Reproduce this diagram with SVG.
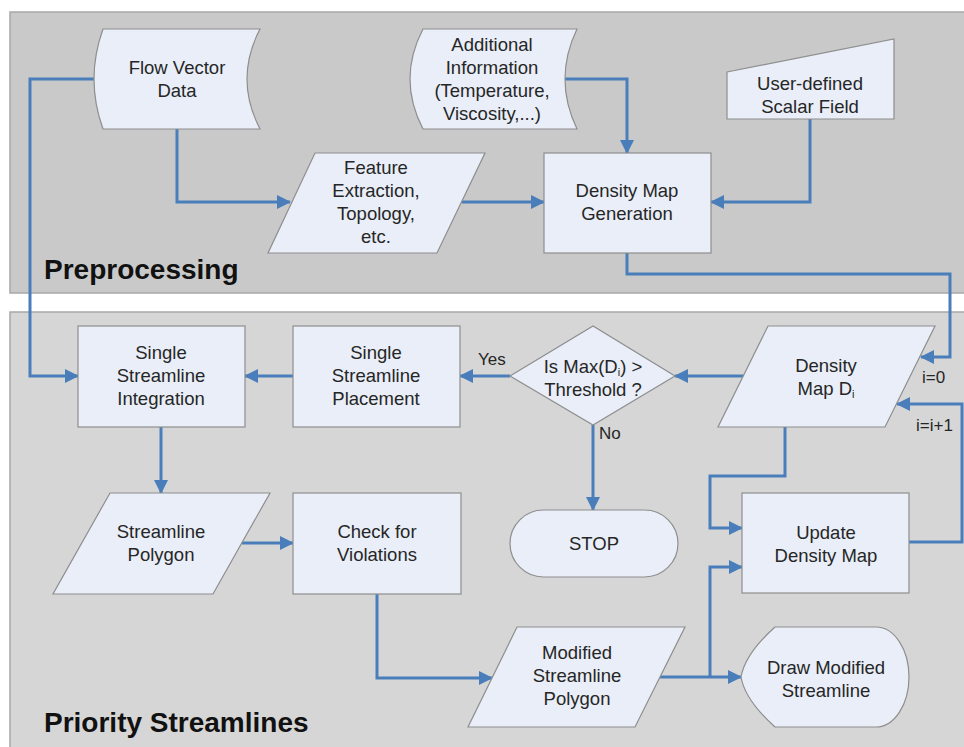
<svg xmlns="http://www.w3.org/2000/svg" width="964" height="747" viewBox="0 0 964 747">
<style>
.node{fill:#e9eef8;stroke:#8e8e8e;stroke-width:1.2}
.t{font-family:"Liberation Sans",Arial,sans-serif;font-size:18.5px;fill:#262626;text-anchor:middle}
.lbl{font-family:"Liberation Sans",Arial,sans-serif;font-size:17px;fill:#262626}
.title{font-family:"Liberation Sans",Arial,sans-serif;font-size:28px;font-weight:bold;fill:#111}
.c{fill:none;stroke:#4a7ebb;stroke-width:3;marker-end:url(#ah)}
</style>
<defs>
<marker id="ah" viewBox="0 0 14 14" refX="13" refY="7" markerWidth="14" markerHeight="14" markerUnits="userSpaceOnUse" orient="auto">
<path d="M0,0 L14,7 L0,14 Z" fill="#4a7ebb"/>
</marker>
</defs>
<rect x="0" y="0" width="964" height="747" fill="#ffffff"/>
<g id="panel-preprocessing">
<rect x="10" y="12" width="960" height="281" fill="#c9c9c9" stroke="#a8a8a8" stroke-width="1.5"/>
<text class="title" x="44" y="279">Preprocessing</text>
</g>
<g id="panel-priority">
<rect x="10" y="312" width="960" height="445" fill="#d6d6d6" stroke="#a8a8a8" stroke-width="1.5"/>
<text class="title" x="44" y="732">Priority Streamlines</text>
</g>
<g id="connectors">
<path class="c" d="M94,79 H30 V376 H78"/>
<path class="c" d="M177,129 V202 H290"/>
<path class="c" d="M462,202 H544"/>
<path class="c" d="M565,79 H627 V153"/>
<path class="c" d="M810,119 V202 H711"/>
<path class="c" d="M627,253 V274 H950 V357 H921"/>
<path class="c" d="M744,376 H675"/>
<path class="c" d="M510,376 H460"/>
<path class="c" d="M293,376 H245"/>
<path class="c" d="M593,425 V510"/>
<path class="c" d="M785,427 V476 H710 V528 H742"/>
<path class="c" d="M909,542 H962 V404 H897"/>
<path class="c" d="M161,427 V493"/>
<path class="c" d="M242,543 H293"/>
<path class="c" d="M377,594 V678 H492"/>
<path class="c" d="M660,677 H741"/>
<path class="c" d="M710,677 V567 H742"/>
<text class="lbl" x="478" y="365">Yes</text>
<text class="lbl" x="599" y="439">No</text>
<text class="lbl" x="922" y="383">i=0</text>
<text class="lbl" x="916" y="431">i=i+1</text>
</g>
<g id="flow-vector-data">
<path class="node" d="M103,29 L260,29 Q234,79 260,129 L103,129 Q85,79 103,29 Z"/>
<text class="t" x="177" y="74">Flow Vector</text>
<text class="t" x="177" y="97">Data</text>
</g>
<g id="additional-information">
<path class="node" d="M423,29 L577,29 Q553,79 577,129 L423,129 Q397,79 423,29 Z"/>
<text class="t" x="492" y="51">Additional</text>
<text class="t" x="492" y="74">Information</text>
<text class="t" x="492" y="97">(Temperature,</text>
<text class="t" x="492" y="120">Viscosity,...)</text>
</g>
<g id="user-defined-scalar-field">
<path class="node" d="M727,72 L894,39 L894,119 L727,119 Z"/>
<text class="t" x="810" y="90">User-defined</text>
<text class="t" x="810" y="113">Scalar Field</text>
</g>
<g id="feature-extraction">
<path class="node" d="M315,153 L485,153 L437,253 L268,253 Z"/>
<text class="t" x="376" y="174">Feature</text>
<text class="t" x="376" y="197">Extraction,</text>
<text class="t" x="376" y="220">Topology,</text>
<text class="t" x="376" y="243">etc.</text>
</g>
<g id="density-map-generation">
<rect class="node" x="544" y="153" width="167" height="100"/>
<text class="t" x="627" y="197">Density Map</text>
<text class="t" x="627" y="220">Generation</text>
</g>
<g id="single-streamline-integration">
<rect class="node" x="78" y="326" width="167" height="101"/>
<text class="t" x="161" y="359">Single</text>
<text class="t" x="161" y="382">Streamline</text>
<text class="t" x="161" y="405">Integration</text>
</g>
<g id="single-streamline-placement">
<rect class="node" x="293" y="326" width="167" height="101"/>
<text class="t" x="376" y="359">Single</text>
<text class="t" x="376" y="382">Streamline</text>
<text class="t" x="376" y="405">Placement</text>
</g>
<g id="decision-threshold">
<path class="node" d="M510,376 L593,326 L675,376 L593,425 Z"/>
<text class="t" x="593" y="373">Is Max(D<tspan font-size="11" dy="3">i</tspan><tspan dy="-3">) &gt;</tspan></text>
<text class="t" x="593" y="396">Threshold ?</text>
</g>
<g id="density-map-di">
<path class="node" d="M768,326 L935,326 L885,427 L718,427 Z"/>
<text class="t" x="826" y="372">Density</text>
<text class="t" x="826" y="395">Map D<tspan font-size="11" dy="3">i</tspan></text>
</g>
<g id="stop">
<rect class="node" x="510" y="510" width="168" height="67" rx="33.5" ry="33.5"/>
<text class="t" x="594" y="550">STOP</text>
</g>
<g id="update-density-map">
<rect class="node" x="742" y="493" width="167" height="100"/>
<text class="t" x="826" y="539">Update</text>
<text class="t" x="826" y="562">Density Map</text>
</g>
<g id="streamline-polygon">
<path class="node" d="M110,493 L270,493 L213,594 L53,594 Z"/>
<text class="t" x="161" y="538">Streamline</text>
<text class="t" x="161" y="561">Polygon</text>
</g>
<g id="check-for-violations">
<rect class="node" x="293" y="493" width="168" height="101"/>
<text class="t" x="377" y="538">Check for</text>
<text class="t" x="377" y="561">Violations</text>
</g>
<g id="modified-streamline-polygon">
<path class="node" d="M517,627 L685,627 L635,727 L468,727 Z"/>
<text class="t" x="577" y="659">Modified</text>
<text class="t" x="577" y="682">Streamline</text>
<text class="t" x="577" y="705">Polygon</text>
</g>
<g id="draw-modified-streamline">
<path class="node" d="M775,627 L876,627 A33,50 0 0 1 876,727 L775,727 Q745,700 741,677 Q745,654 775,627 Z"/>
<text class="t" x="826" y="674">Draw Modified</text>
<text class="t" x="826" y="697">Streamline</text>
</g>
</svg>
